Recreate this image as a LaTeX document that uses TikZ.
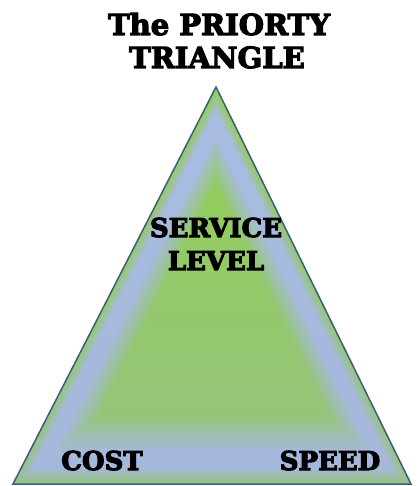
\documentclass[tikz,border=0pt]{standalone}
\usepackage{fontspec}
\setmainfont{DejaVu Serif}[BoldFeatures={FakeBold=4}]
\usetikzlibrary{calc,fadings}
\definecolor{trigreen}{HTML}{92D050}
\definecolor{triblue}{HTML}{A9BDE3}
\definecolor{triedge}{HTML}{3E5C82}
\tikzfading[name=lowfade, top color=transparent!100, middle color=transparent!100, bottom color=transparent!60]

\begin{document}
\begin{tikzpicture}[
  x=1pt, y=-1pt,
  titletext/.style={font=\bfseries\fontsize{29}{32}\selectfont, anchor=base},
  cornertext/.style={font=\bfseries\fontsize{26}{30}\selectfont, anchor=base},
]
\useasboundingbox (0,0) rectangle (419,486);

\coordinate (apex) at (216,87);
\coordinate (left) at (13,484);
\coordinate (right) at (411,484);
\coordinate (mid) at (215,325);

% path gradient: nested triangles, outside in
\foreach \i in {100,99,...,1}{
  \pgfmathsetmacro\s{\i/100}
  \pgfmathtruncatemacro\p{\i>90 ? (100-\i)*10 : (\i>80 ? 100 : max(0,(\i-58)/22*100))}
  \fill[triblue!\p!trigreen] ($(mid)!\s!(apex)$) -- ($(mid)!\s!(left)$) -- ($(mid)!\s!(right)$) -- cycle;
}
\fill[triblue!80!gray, path fading=lowfade] (apex) -- (left) -- (right) -- cycle;
\draw[triedge, line width=1.5pt, line join=miter] (apex) -- (left) -- (right) -- cycle;

\node[titletext] (title1) at (219,35) {The PRIORTY};
\node[titletext] (title2) at (217,68) {TRIANGLE};
\node[cornertext] (service) at (216,237) {SERVICE};
\node[cornertext] (level) at (216,270) {LEVEL};
\node[cornertext] (cost) at (102,470) {COST};
\node[cornertext] (speed) at (330,470) {SPEED};
\end{tikzpicture}
\end{document}
